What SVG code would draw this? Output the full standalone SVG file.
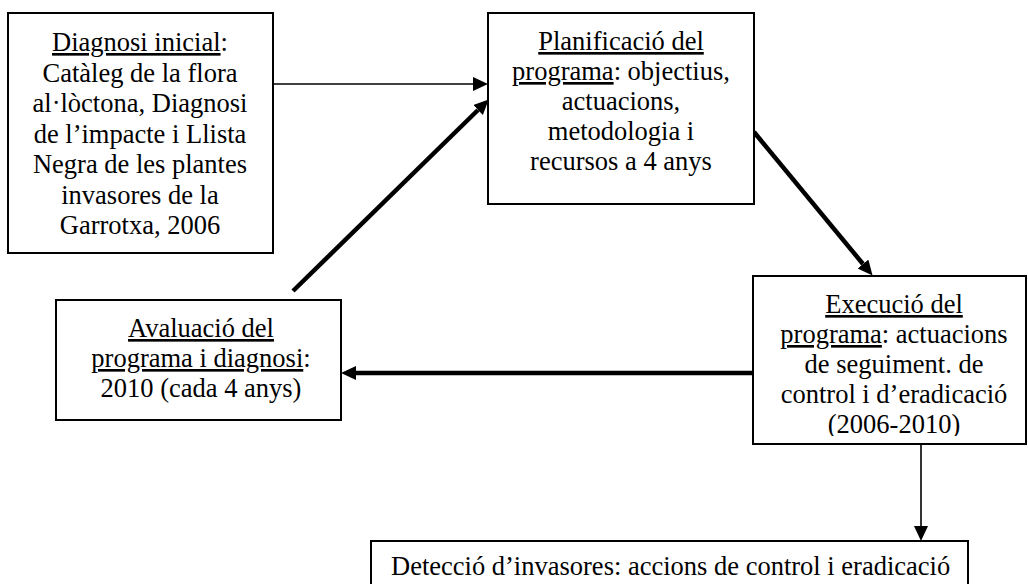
<svg xmlns="http://www.w3.org/2000/svg" width="1028" height="584" viewBox="0 0 1028 584">
<style>
  .box { fill: #ffffff; stroke: #000000; stroke-width: 2; }
  .t { font-family: "Liberation Serif", "Times New Roman", serif; font-size: 26.5px; fill: #000000; text-anchor: middle; }
  .tl { font-family: "Liberation Serif", "Times New Roman", serif; font-size: 26.5px; fill: #000000; text-anchor: start; }
  .u { text-decoration: underline; }
  .thin { stroke: #000000; stroke-width: 1.6; fill: none; }
  .thick { stroke: #000000; stroke-width: 4.5; fill: none; }
</style>
<defs>
  <marker id="ahThin" markerUnits="userSpaceOnUse" markerWidth="16" markerHeight="15" refX="0" refY="7" orient="auto" viewBox="0 0 16 15">
    <path d="M0,0 L15,7 L0,14 z" fill="#000000"/>
  </marker>
  <marker id="ahThick" markerUnits="userSpaceOnUse" markerWidth="16" markerHeight="15" refX="0" refY="7" orient="auto" viewBox="0 0 16 15">
    <path d="M0,0 L15,7 L0,14 z" fill="#000000"/>
  </marker>
  <clipPath id="clip4"><rect x="754" y="277" width="272" height="159"/></clipPath>
</defs>
<rect x="0" y="0" width="1028" height="584" fill="#ffffff"/>

<g id="connectors">
  <line class="thin" x1="273" y1="84" x2="473" y2="84" marker-end="url(#ahThin)"/>
  <line class="thick" x1="293" y1="291" x2="478" y2="110" marker-end="url(#ahThick)"/>
  <line class="thick" x1="754" y1="132" x2="863" y2="264" marker-end="url(#ahThick)"/>
  <line class="thick" x1="753" y1="373" x2="356" y2="373" marker-end="url(#ahThick)"/>
  <line class="thin" x1="921" y1="444" x2="921" y2="526" marker-end="url(#ahThin)"/>
</g>

<g id="node-diagnosi">
  <rect class="box" x="8" y="13" width="265" height="240"/>
  <text class="t" x="140" y="51"><tspan class="u">Diagnosi inicial</tspan>:</text>
  <text class="t" x="140" y="81.5">Catàleg de la flora</text>
  <text class="t" x="140" y="112">al·lòctona, Diagnosi</text>
  <text class="t" x="140" y="142.5">de l’impacte i Llista</text>
  <text class="t" x="140" y="173">Negra de les plantes</text>
  <text class="t" x="140" y="203.5">invasores de la</text>
  <text class="t" x="140" y="234">Garrotxa, 2006</text>
</g>

<g id="node-planificacio">
  <rect class="box" x="488" y="13" width="266" height="191"/>
  <text class="t" x="621" y="50"><tspan class="u">Planificació del</tspan></text>
  <text class="t" x="621" y="80"><tspan class="u">programa</tspan>: objectius,</text>
  <text class="t" x="621" y="110">actuacions,</text>
  <text class="t" x="621" y="140">metodologia i</text>
  <text class="t" x="621" y="170">recursos a 4 anys</text>
</g>

<g id="node-avaluacio">
  <rect class="box" x="56" y="300" width="285" height="120"/>
  <text class="t" x="201" y="337"><tspan class="u">Avaluació del</tspan></text>
  <text class="t" x="201" y="367"><tspan class="u">programa i diagnosi</tspan>:</text>
  <text class="t" x="201" y="397">2010 (cada 4 anys)</text>
</g>

<g id="node-execucio">
  <rect class="box" x="753" y="276" width="273" height="168"/>
  <g clip-path="url(#clip4)">
    <text class="t" x="894" y="313"><tspan class="u">Execució del</tspan></text>
    <text class="t" x="894" y="343"><tspan class="u">programa</tspan>: actuacions</text>
    <text class="t" x="894" y="373">de seguiment. de</text>
    <text class="t" x="894" y="403">control i d’eradicació</text>
    <text class="t" x="894" y="433">(2006-2010)</text>
  </g>
</g>

<g id="node-deteccio">
  <rect class="box" x="371" y="541" width="597" height="60"/>
  <text class="tl" x="391" y="575">Detecció d’invasores: accions de control i eradicació</text>
</g>
</svg>
